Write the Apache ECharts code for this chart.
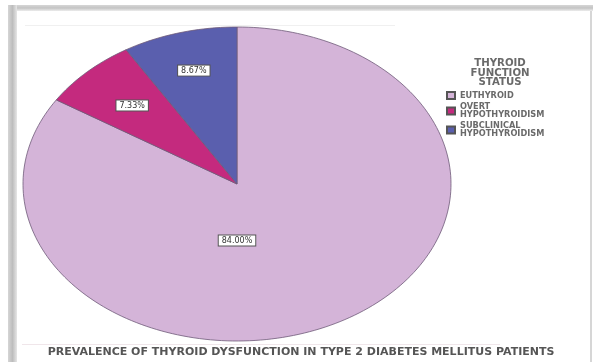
<!DOCTYPE html>
<html>
<head>
<meta charset="utf-8">
<script src="https://cdn.jsdelivr.net/npm/echarts@6/dist/echarts.min.js"></script>
<style>
  html, body { margin: 0; padding: 0; background: #ffffff; }
  #chart { width: 593px; height: 362px; }
</style>
</head>
<body>
<div id="chart"></div>
<script>
// Thyroid function status among type 2 diabetes patients (percent)
const categories = ['EUTHYROID', 'OVERT\nHYPOTHYROIDISM', 'SUBCLINICAL\nHYPOTHYROIDISM'];
const percentages = [84.00, 7.33, 8.67];
const sliceColors = ['#d4b4d8', '#c42a7e', '#5a5fae'];
const chartTitle = 'PREVALENCE OF THYROID DYSFUNCTION IN TYPE 2 DIABETES MELLITUS PATIENTS';
const legendTitle = 'THYROID\nFUNCTION\nSTATUS';

const FONT = 'DejaVu Sans, Verdana, sans-serif';

// Label placement per slice: angle (degrees clockwise from 12 o'clock, null = slice middle)
// and distance from the centre as a fraction of the radius.
const labelPlacement = [
  { angle: 180, r: 0.36 },
  { angle: null, r: 0.70 },
  { angle: null, r: 0.75 }
];

const total = percentages.reduce((a, b) => a + b, 0);
const bounds = [];
let acc = 0;
percentages.forEach(v => { bounds.push([acc, acc + v]); acc += v; });

// Elliptical sector drawn in a [-1,1] x [-1,1] value space so the grid's axes
// stretch the unit circle into the ellipse.
function makeRender(idx) {
  return function (params, api) {
    const startDeg = bounds[idx][0] / total * 360;
    const endDeg = bounds[idx][1] / total * 360;
    const pts = [api.coord([0, 0])];
    const steps = Math.max(4, Math.ceil((endDeg - startDeg) / 1.5));
    for (let s = 0; s <= steps; s++) {
      const a = (startDeg + (endDeg - startDeg) * s / steps) * Math.PI / 180;
      pts.push(api.coord([Math.sin(a), Math.cos(a)]));
    }
    const pl = labelPlacement[idx];
    const la = ((pl.angle == null) ? (startDeg + endDeg) / 2 : pl.angle) * Math.PI / 180;
    const lp = api.coord([pl.r * Math.sin(la), pl.r * Math.cos(la)]);
    return {
      type: 'group',
      children: [
        {
          type: 'polygon',
          shape: { points: pts },
          style: { fill: sliceColors[idx], stroke: '#6e5a78', lineWidth: 0.8 }
        },
        {
          type: 'text',
          x: lp[0], y: lp[1],
          z2: 10,
          style: {
            text: percentages[idx].toFixed(2) + '%',
            fontFamily: FONT,
            fontSize: 8,
            fill: '#333',
            align: 'center',
            verticalAlign: 'middle',
            backgroundColor: '#ffffff',
            borderColor: '#555',
            borderWidth: 1,
            padding: [1, 3, 1, 3]
          }
        }
      ]
    };
  };
}

const series = categories.map((name, i) => ({
  type: 'custom',
  name: name,
  coordinateSystem: 'cartesian2d',
  data: [[0, 0]],
  itemStyle: { color: sliceColors[i], borderColor: '#555', borderWidth: 0.8 },
  renderItem: makeRender(i),
  silent: true
}));

const chart = echarts.init(document.getElementById('chart'), null, { renderer: 'canvas' });
chart.setOption({
  animation: false,
  backgroundColor: '#ffffff',
  grid: { left: 23, top: 27, width: 428, height: 314 },
  xAxis: { type: 'value', min: -1, max: 1, show: false },
  yAxis: { type: 'value', min: -1, max: 1, show: false },
  title: [
    {
      text: legendTitle,
      left: 500, top: 59,
      padding: 0,
      textAlign: 'center',
      textStyle: { fontFamily: FONT, fontSize: 10.2, fontWeight: 'bold', color: '#6a6a6a', lineHeight: 9.5 }
    },
    {
      text: chartTitle,
      left: 301, top: 347,
      padding: 0,
      textAlign: 'center',
      textStyle: { fontFamily: FONT, fontSize: 11, fontWeight: 'bold', color: '#555' }
    }
  ],
  legend: {
    orient: 'vertical',
    left: 446, top: 91,
    padding: 0,
    itemWidth: 8, itemHeight: 7,
    itemGap: 3,
    icon: 'rect',
    selectedMode: false,
    textStyle: { fontFamily: FONT, fontSize: 8.2, fontWeight: 'bold', color: '#6a6a6a', lineHeight: 8 },
    data: categories
  },
  graphic: [
    // frame shadow on the left and top, thin edge on the right
    { type: 'rect', shape: { x: 8, y: 5, width: 9, height: 357 }, silent: true,
      style: { fill: new echarts.graphic.LinearGradient(0, 0, 1, 0, [
        { offset: 0, color: '#d6d6d6' }, { offset: 0.5, color: '#bdbdbd' }, { offset: 1, color: '#e6e6e6' }]) } },
    { type: 'rect', shape: { x: 17, y: 5, width: 576, height: 6 }, silent: true,
      style: { fill: new echarts.graphic.LinearGradient(0, 0, 0, 1, [
        { offset: 0, color: '#d6d6d6' }, { offset: 0.5, color: '#c4c4c4' }, { offset: 1, color: '#ececec' }]) } },
    { type: 'line', shape: { x1: 591, y1: 11, x2: 591, y2: 362 }, silent: true,
      style: { stroke: '#c8c8c8', lineWidth: 1.5 } },
    { type: 'line', shape: { x1: 25, y1: 25.5, x2: 395, y2: 25.5 }, silent: true,
      style: { stroke: '#f0f0f0', lineWidth: 1 } },
    { type: 'line', shape: { x1: 22, y1: 344.5, x2: 500, y2: 344.5 }, silent: true,
      style: { stroke: '#f0e6ea', lineWidth: 1 } }
  ],
  series: series
});
</script>
</body>
</html>
